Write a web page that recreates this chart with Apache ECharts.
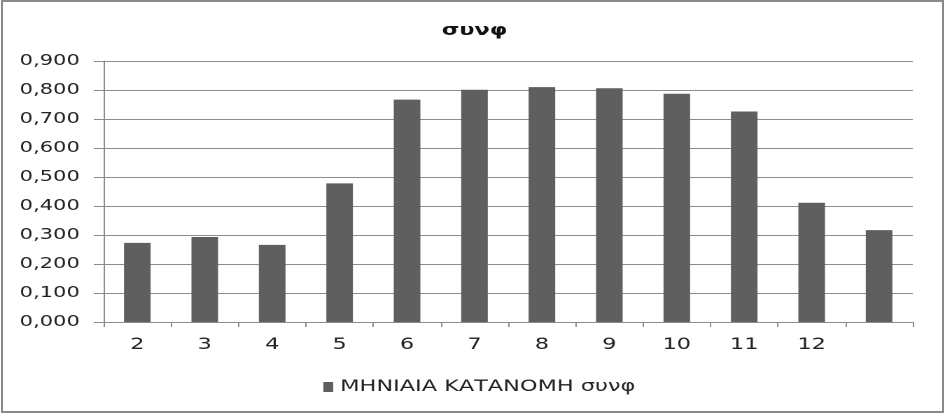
<!DOCTYPE html>
<html lang="el">
<head>
    <meta charset="UTF-8">
    <title>συνφ</title>
    <script src="https://cdn.jsdelivr.net/npm/echarts@6/dist/echarts.min.js"></script>
    <style>
html,body{
    margin:0;
    padding:0;
    background:#fff;
    overflow:hidden;
}
#box{
    position:absolute;
    left:1px;
    top:0;
    width:943px;
    height:413px;
    border:2px solid #8a8a8a;
    box-sizing:border-box;
}
/* το αρχικό γράφημα του Excel είναι τεντωμένο οριζόντια */
#chart{
    position:absolute;
    left:0;
    top:0;
    width:676px;
    height:414px;
    transform:scaleX(1.4);
    transform-origin:0 0;
}
    </style>
</head>
<body>
<div id="box"></div>
<div id="chart"></div>
<script type="text/javascript">
    // μήνες (ο τελευταίος χωρίς ετικέτα όπως στο πρωτότυπο)
    var months = ['2', '3', '4', '5', '6', '7', '8', '9', '10', '11', '12', ''];
    var synf = [0.273, 0.293, 0.266, 0.478, 0.767, 0.801, 0.810, 0.806, 0.787, 0.726, 0.411, 0.317];
    var yTicks = [0, 0.9, 0.1];  // min, max, βήμα

    var myChart = echarts.init(document.getElementById('chart'), null, {devicePixelRatio: 2});
    myChart.setOption({
        animation: false,
        textStyle: {fontFamily: 'DejaVu Sans'},
        title: {
            text: 'συνφ',
            left: 334,
            top: 18,
            textAlign: 'center',
            textStyle: {fontSize: 16, fontWeight: 'bold', color: '#111'}
        },
        legend: {
            left: 226,
            top: 374,
            itemWidth: 7,
            itemHeight: 10,
            itemGap: 4,
            icon: 'rect',
            textStyle: {fontSize: 16, color: '#222'},
            data: ['ΜΗΝΙΑΙΑ ΚΑΤΑΝΟΜΗ συνφ']
        },
        grid: {
            left: 74,
            right: 24,
            top: 61,
            bottom: 92
        },
        xAxis: {
            type: 'category',
            data: months,
            axisLine: {lineStyle: {color: '#8c8c8c', width: 1}},
            axisTick: {show: true, length: 5, lineStyle: {color: '#8c8c8c'}},
            axisLabel: {margin: 15, fontSize: 16, color: '#222'}
        },
        yAxis: {
            type: 'value',
            min: yTicks[0],
            max: yTicks[1],
            interval: yTicks[2],
            axisLine: {show: true, lineStyle: {color: '#8c8c8c', width: 1}},
            axisTick: {show: true, length: 7, lineStyle: {color: '#8c8c8c'}},
            splitLine: {lineStyle: {color: '#8c8c8c', width: 1}},
            axisLabel: {
                margin: 17,
                fontSize: 15,
                color: '#222',
                formatter: function (v) {
                    return v.toFixed(3).replace('.', ',');
                }
            }
        },
        series: [{
            name: 'ΜΗΝΙΑΙΑ ΚΑΤΑΝΟΜΗ συνφ',
            type: 'bar',
            data: synf,
            barWidth: 19,
            itemStyle: {color: '#5f5f5f'}
        }]
    });
</script>
</body>
</html>
